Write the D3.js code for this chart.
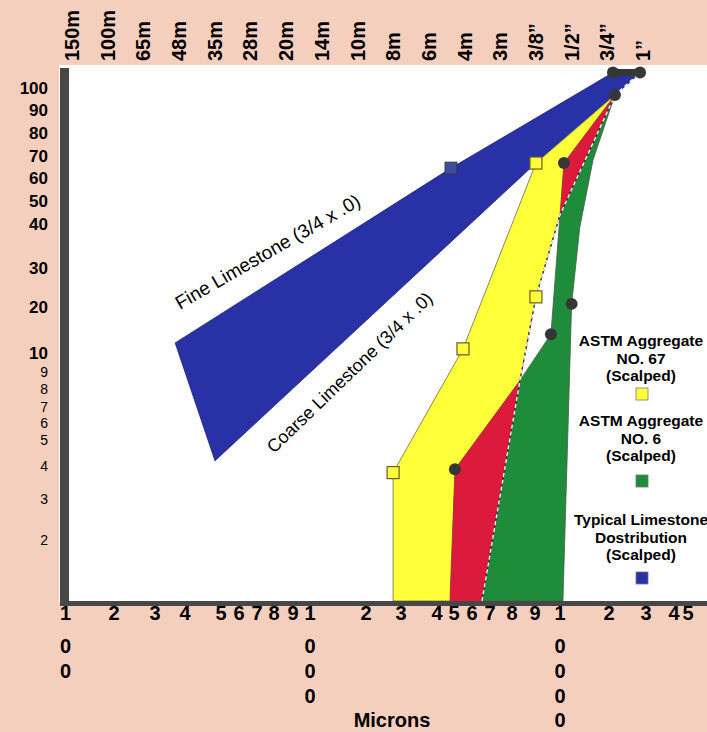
<!DOCTYPE html>
<html><head><meta charset="utf-8">
<script src="https://cdn.jsdelivr.net/npm/d3@7"></script>
<style>
html,body{margin:0;padding:0;background:#F4CFBD;}
svg{display:block;font-family:"Liberation Sans",Arial,sans-serif;}
</style></head><body>
<svg id="chart" width="707" height="732"></svg>
<script>
// ---- data ----
const sieveLabels = ["150m","100m","65m","48m","35m","28m","20m","14m","10m","8m","6m","4m","3m","3/8\u201D","1/2\u201D","3/4\u201D","1\u201D"];
const sieveMicrons = [104,147,208,295,417,589,833,1168,1651,2362,3327,4699,6680,9525,12700,19050,25400];
const percentTicks = [2,3,4,5,6,7,8,9,10,20,30,40,50,60,70,80,90,100];
const micronTicks = [100,200,300,400,500,600,700,800,900,1000,2000,3000,4000,5000,6000,7000,8000,9000,10000,20000,30000,40000,50000];

// [size in microns, percent passing]
const fineLimestone   = [[284,12.2],[4120,64.5],[19935,107]];
const coarseLimestone = [[418,4.2],[9525,66.8],[24800,107]];
const astm67Upper = [[2360,0],[2360,3.8],[4627,10.9],[9525,66.8],[20260,96.8],[24800,107]];
const astm67Lower = [[5579,0],[8126,8.5],[9525,22.6],[11560,43.9],[20260,96.8],[24800,107]];
const astm6Upper  = [[4079,0],[4281,3.9],[8126,8.5],[10748,14.1],[11939,66.8],[20260,96.8]];
const astm6Lower  = [[11843,0],[12700,20.8],[13942,39.3],[16199,68.2],[20260,96.8]];
const astm67Marks = [[2360,3.8],[4627,10.9],[9525,66.8],[9525,22.6]];
const astm6Marks  = [[4281,3.9],[10748,14.1],[11939,66.8],[12700,20.8],[20260,96.8]];
const limestoneMarks = [[19935,107],[24800,107]];
const limestoneSquare = [[4120,64.5]];
const legendItems = [
  {lines:["ASTM Aggregate","NO. 67","(Scalped)"], color:"#FFFF3A"},
  {lines:["ASTM Aggregate","NO. 6","(Scalped)"], color:"#1F8C3B"},
  {lines:["Typical Limestone","Dostribution","(Scalped)"], color:"#2832A6"}
];

// ---- colours ----
const BLUE="#2832A6", YELLOW="#FFFF3A", RED="#DC1B3C", GREEN="#1F8C3B", DARK="#363636";

const svg = d3.select("#chart");

// ---- scales ----
const xTop = d3.scalePoint().domain(sieveLabels).range([72,643]);
const x = d3.scaleLog().domain(sieveMicrons).range(sieveLabels.map(l=>xTop(l)));
const y = d3.scaleLinear().domain([0,...percentTicks])
  .range([601,540,499,466,440,423,407,389,372,353,307,268,224,201,178,156,133,110,88]);
const xBottom = d3.scaleLinear().domain(micronTicks)
  .range([65.5,114,155,185,221,239,257,274,293,310,366,401,437,454,472,490,512,535,560,609,646,674,688]);

// ---- frame ----
svg.append("rect").attr("x",59).attr("y",65).attr("width",648).attr("height",537).attr("fill","#fff");

const line = d3.line().x(d=>x(d[0])).y(d=>y(d[1]));
const band = (a,b)=>line(a.concat(b.slice().reverse()))+"Z";

// blue limestone band
svg.append("path").attr("d",band(fineLimestone,coarseLimestone))
  .attr("fill",BLUE).attr("stroke","#1c2270").attr("stroke-width",0.8);
// dark top edge of the blue band
svg.append("path").attr("d",line([fineLimestone[fineLimestone.length-1],coarseLimestone[coarseLimestone.length-1]]))
  .attr("stroke",DARK).attr("stroke-width",7).attr("stroke-linecap","round").attr("fill","none");

// clip for overlap
svg.append("defs").append("clipPath").attr("id","clip67")
  .append("path").attr("d",band(astm67Upper,astm67Lower));

// yellow ASTM 67
svg.append("path").attr("d",band(astm67Upper,astm67Lower))
  .attr("fill",YELLOW).attr("stroke","#6a6a50").attr("stroke-width",0.8);
// green ASTM 6
svg.append("path").attr("d",band(astm6Upper,astm6Lower))
  .attr("fill",GREEN).attr("stroke","#4a5a4a").attr("stroke-width",0.8);
// red overlap
svg.append("path").attr("d",band(astm6Upper,astm6Lower))
  .attr("fill",RED).attr("clip-path","url(#clip67)");

// dashed ASTM 67 lower limit
svg.append("path").attr("d",line(astm67Lower)).attr("fill","none")
  .attr("stroke","#333").attr("stroke-width",1.2);
svg.append("path").attr("d",line(astm67Lower)).attr("fill","none")
  .attr("stroke","#fff").attr("stroke-width",1.3).attr("stroke-dasharray","4,3");

// markers
svg.selectAll(".dot").data(astm6Marks.concat(limestoneMarks)).join("circle")
  .attr("cx",d=>x(d[0])).attr("cy",d=>y(d[1])).attr("r",6).attr("fill",DARK);
svg.selectAll(".sq67").data(astm67Marks).join("rect")
  .attr("x",d=>x(d[0])-6).attr("y",d=>y(d[1])-6).attr("width",12).attr("height",12)
  .attr("fill",YELLOW).attr("stroke","#6b5a2a").attr("stroke-width",1.2);
svg.selectAll(".sqL").data(limestoneSquare).join("rect")
  .attr("x",d=>x(d[0])-6).attr("y",d=>y(d[1])-6).attr("width",12).attr("height",12)
  .attr("fill","#3a4f9c").attr("stroke","#333").attr("stroke-width",0.8);

// axis bars
svg.append("rect").attr("x",60).attr("y",68).attr("width",9).attr("height",538).attr("fill","#474747");
svg.append("rect").attr("x",60).attr("y",601).attr("width",647).attr("height",5).attr("fill","#474747");

// top sieve labels
svg.append("g").selectAll("text").data(sieveLabels).join("text")
  .attr("transform",d=>`translate(${xTop(d)+7},61) rotate(-90)`)
  .attr("text-anchor","start").attr("font-size",20).attr("font-weight","bold").attr("fill","#000")
  .text(d=>d);

// left percent labels
svg.append("g").selectAll("text").data(percentTicks).join("text")
  .attr("x",48).attr("y",d=>y(d)).attr("dy","0.36em").attr("text-anchor","end")
  .attr("font-size",d=>d>=10?17:14).attr("font-weight",d=>d>=10?"bold":"normal").attr("fill","#000")
  .text(d=>d);

// bottom micron labels (stacked digits for powers of ten)
const rowY=[620,653,678,703,727];
const gB = svg.append("g").attr("font-size",20).attr("font-weight","bold").attr("text-anchor","middle");
micronTicks.forEach(v=>{
  const s=String(v);
  const pow10=/^10+$/.test(s);
  const digits=pow10?s.split(""):[s[0]];
  digits.forEach((c,i)=>gB.append("text").attr("x",xBottom(v)).attr("y",rowY[i]).text(c));
});
gB.append("text").attr("x",392).attr("y",727).text("Microns");

// band annotations
svg.append("text").attr("transform","translate(180,310) rotate(-30)")
  .attr("font-size",19).text("Fine Limestone (3/4 x .0)");
svg.append("text").attr("transform","translate(274,454) rotate(-44)")
  .attr("font-size",18).text("Coarse Limestone (3/4 x .0)");

// legend
const lg = svg.append("g").attr("font-size",15.5).attr("font-weight","bold").attr("text-anchor","middle");
const legTop=[346,426,525];
legendItems.forEach((it,k)=>{
  it.lines.forEach((t,i)=>lg.append("text").attr("x",641).attr("y",legTop[k]+i*17.5).text(t));
  const sy=[394,481,578][k];
  lg.append("rect").attr("x",636).attr("y",sy-6).attr("width",12).attr("height",12)
    .attr("fill",it.color).attr("stroke","#777").attr("stroke-width",0.8);
});
</script>
</body></html>
